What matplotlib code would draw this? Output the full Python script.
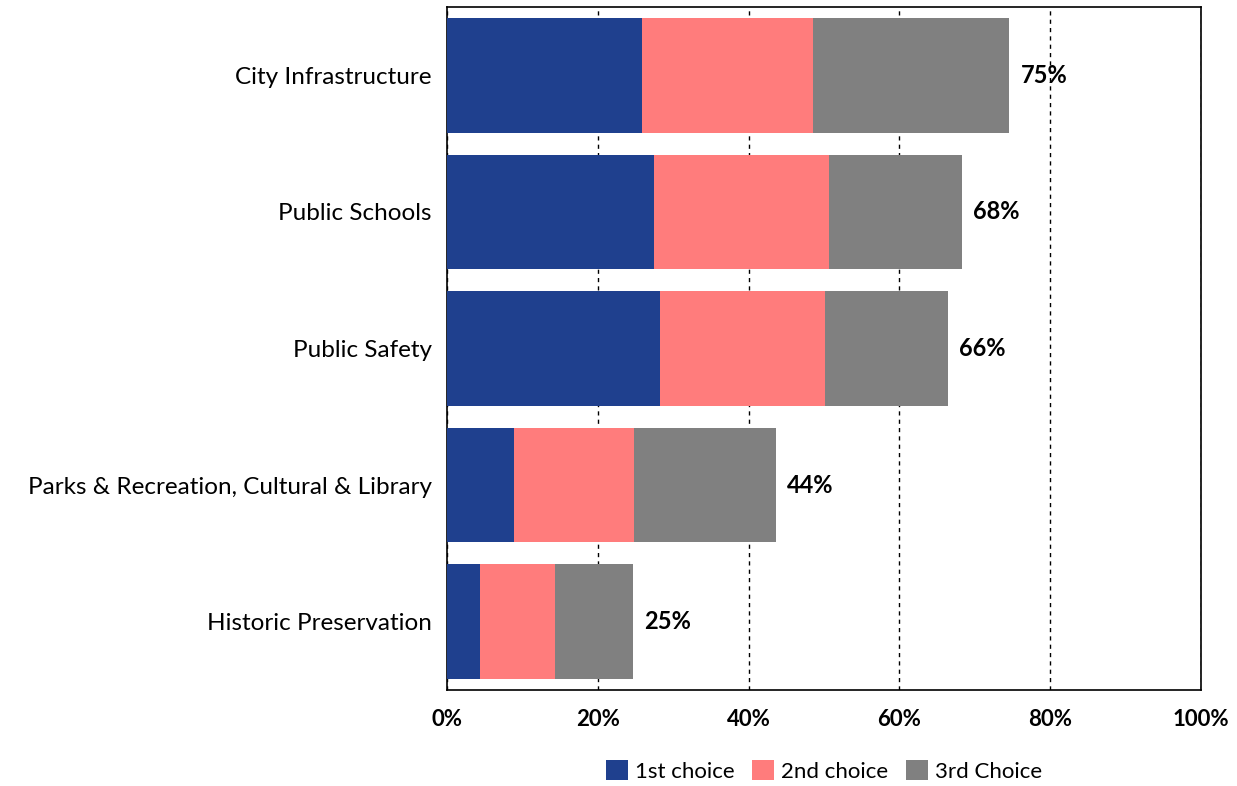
import matplotlib
matplotlib.use("Agg")
import matplotlib.pyplot as plt
import numpy as np

plt.rcParams['font.family'] = ['Lato', 'DejaVu Sans']

categories = ["City Infrastructure", "Public Schools", "Public Safety",
              "Parks & Recreation, Cultural & Library", "Historic Preservation"]
first_choice = [25.8, 27.5, 28.3, 8.9, 4.4]
second_choice = [22.8, 23.1, 21.8, 15.9, 9.9]
third_choice = [26.0, 17.7, 16.3, 18.8, 10.4]
series_names = ["1st choice", "2nd choice", "3rd Choice"]
colors = ["#1F408E", "#FF7C7C", "#808080"]
xticks = [0, 20, 40, 60, 80, 100]

fig = plt.figure(figsize=(12.37, 7.86), dpi=100)
ax = fig.add_axes([447/1237, 1-690/786, (1201-447)/1237, (690-7)/786])

y = np.arange(len(categories))
left = np.zeros(len(categories))
for vals, name, c in zip([first_choice, second_choice, third_choice], series_names, colors):
    ax.barh(y, vals, left=left, height=0.84, color=c, label=name, zorder=3)
    left = left + np.array(vals)

for yi, tot in zip(y, left):
    ax.text(tot + 1.5, yi, f"{tot:.0f}%", va='center', ha='left',
            fontsize=17, fontweight='bold', color='black', zorder=4)

ax.set_xlim(0, 100)
ax.set_ylim(len(categories) - 0.5, -0.5)
ax.set_yticks(y)
ax.set_yticklabels(categories, fontsize=17.5)
ax.set_xticks(xticks)
ax.set_xticklabels([f"{t}%" for t in xticks], fontsize=16, fontweight='bold')
ax.tick_params(axis='both', length=0)
ax.tick_params(axis='y', pad=11)
ax.tick_params(axis='x', pad=14)
ax.xaxis.grid(True, linestyle=(0, (3, 3)), color='black', linewidth=1, zorder=0)
for s in ax.spines.values():
    s.set_color('black')
    s.set_linewidth(1.2)

ax.legend(loc='center', bbox_to_anchor=(824/1237, 1-771/786), bbox_transform=fig.transFigure,
          ncol=3, frameon=False, fontsize=16, handlelength=1.0, handleheight=1.0,
          handletextpad=0.3, columnspacing=0.8)

fig.savefig("out.png", dpi=100)
